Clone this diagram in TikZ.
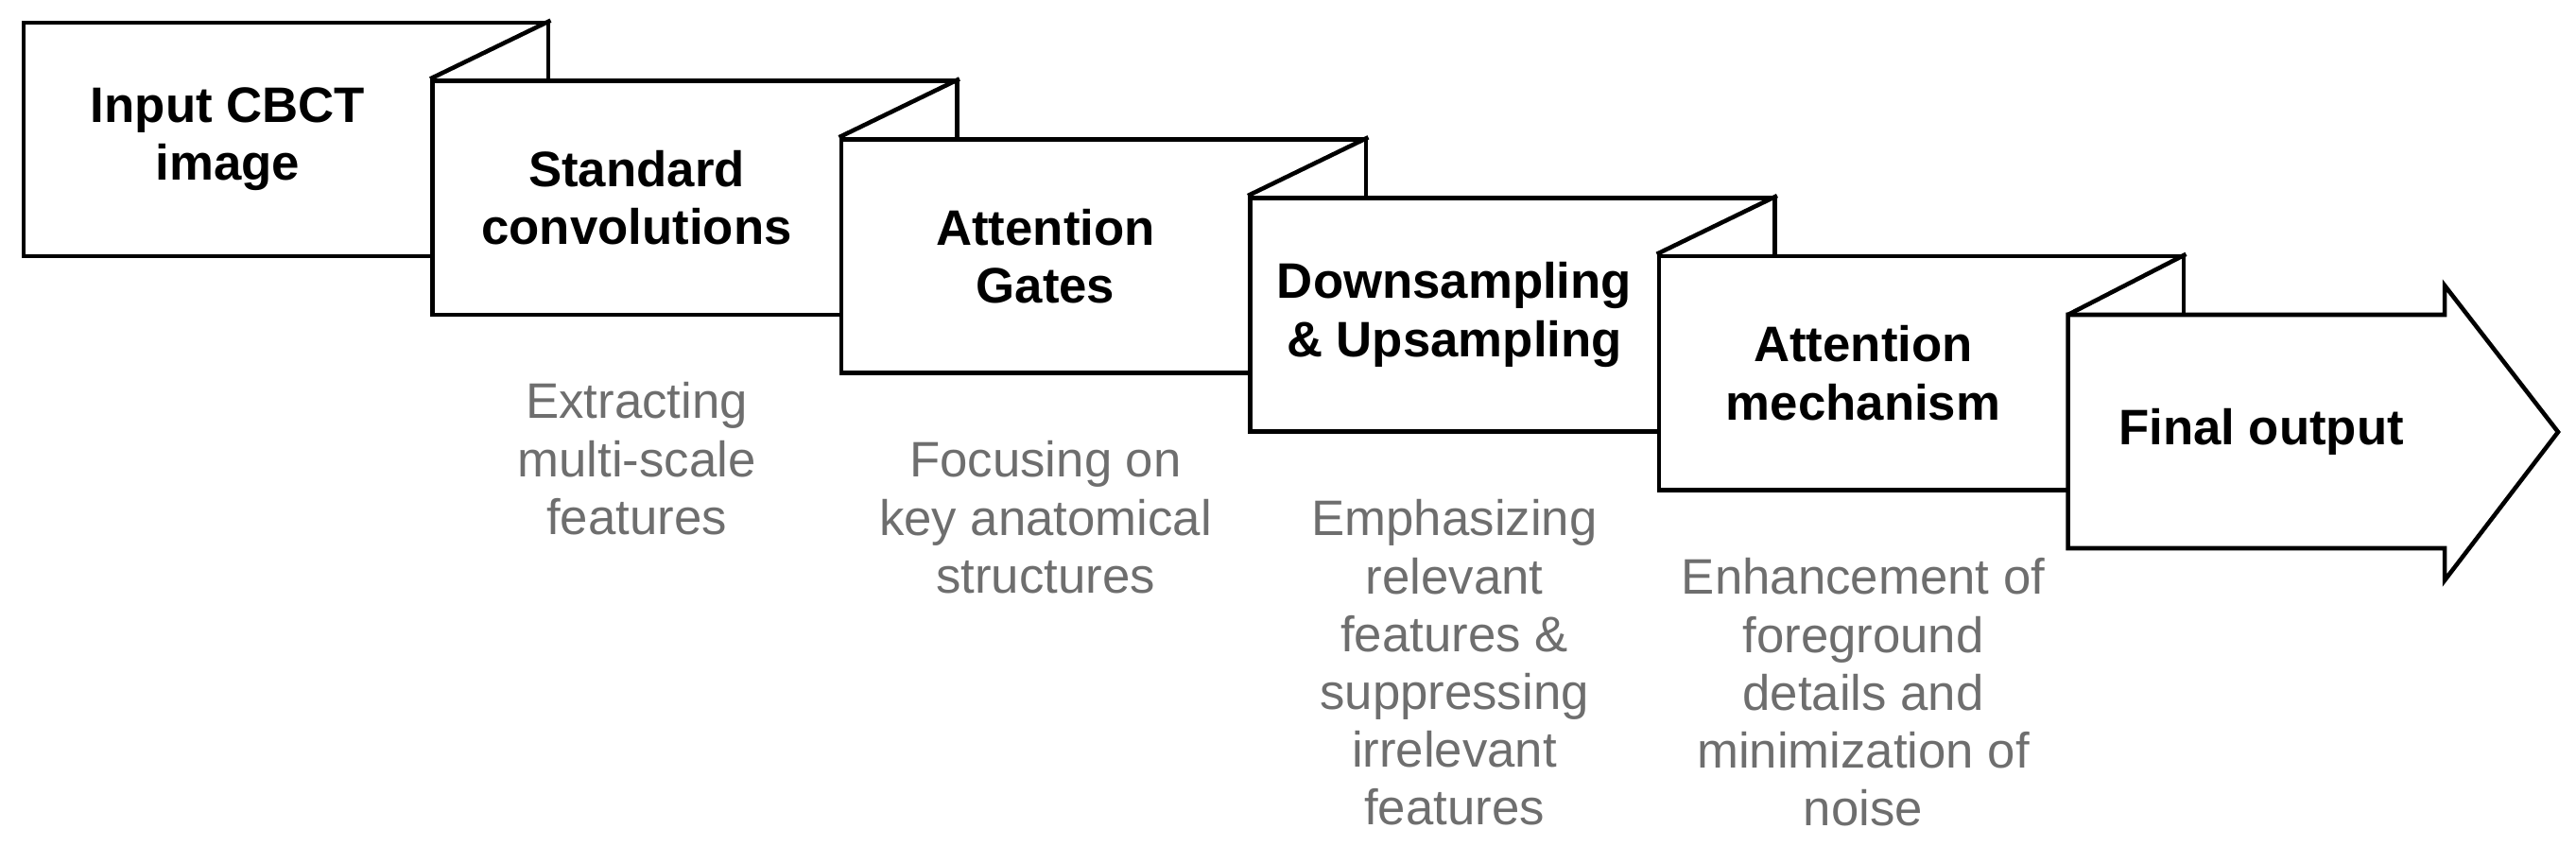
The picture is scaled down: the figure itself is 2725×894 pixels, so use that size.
\documentclass[tikz,border=0pt]{standalone}
\usepackage{fontspec}
\setmainfont{Liberation Sans}
\usetikzlibrary{positioning}
\definecolor{descgray}{RGB}{110,110,110}
\tikzset{
	stepbox/.style={draw=black, fill=white, line width=1.3pt, minimum width=5.55cm, minimum height=2.47cm, inner sep=0pt},
	steptitle/.style={font=\fontsize{15}{17.4}\selectfont\bfseries, align=center},
	stepdesc/.style={font=\fontsize{15}{17.4}\selectfont, text=descgray, align=center, anchor=north, inner sep=0pt}
}
\begin{document}
\begin{tikzpicture}[x=0.01cm, y=-0.01cm]
	\useasboundingbox (0,0) rectangle (2725,894);
	% Steps, each one lying on top of the previous
	\node[stepbox] (b1) at (302.5,147.5) {};
	\node[stepbox] (b2) at (735,209.3) {};
	\node[stepbox] (b3) at (1167.5,271.1) {};
	\node[stepbox] (b4) at (1600,332.9) {};
	\node[stepbox] (b5) at (2032.5,394.7) {};

	% Final arrow
	\coordinate (a1) at (2187.5,333);
	\coordinate (a2) at (2586,333);
	\coordinate (a3) at (2586,302);
	\coordinate (tip) at (2706,457);
	\coordinate (a4) at (2586,614);
	\coordinate (a5) at (2586,580);
	\coordinate (a6) at (2187.5,580);
	\draw[line width=1.3pt, fill=white, line join=miter] (a1) -- (a2) -- (a3) -- (tip) -- (a4) -- (a5) -- (a6) -- cycle;

	% Folds
	\draw[line width=1.3pt] (b1.north east) -- (b2.north west);
	\draw[line width=1.3pt] (b2.north east) -- (b3.north west);
	\draw[line width=1.3pt] (b3.north east) -- (b4.north west);
	\draw[line width=1.3pt] (b4.north east) -- (b5.north west);
	\draw[line width=1.3pt] (b5.north east) -- (a1);

	% Titles
	\node[steptitle] (t1) at (241,147.5) {Input CBCT\\image};
	\node[steptitle] (t2) at (673.5,209.3) {Standard\\convolutions};
	\node[steptitle] (t3) at (1106,271.1) {Attention\\Gates};
	\node[steptitle] (t4) at (1538.5,332.9) {Downsampling\\\& Upsampling};
	\node[steptitle] (t5) at (1971,394.7) {Attention\\mechanism};
	\node[steptitle] (t6) at (2392,457) {Final output};

	% Descriptions
	\node[stepdesc] (d2) at (673.5,404) {Extracting\\multi-scale\\features};
	\node[stepdesc] (d3) at (1106,466) {Focusing on\\key anatomical\\structures};
	\node[stepdesc] (d4) at (1538.5,528) {Emphasizing\\relevant\\features \&\\suppressing\\irrelevant\\features};
	\node[stepdesc] (d5) at (1971,590) {Enhancement of\\foreground\\details and\\minimization of\\noise};
\end{tikzpicture}
\end{document}
